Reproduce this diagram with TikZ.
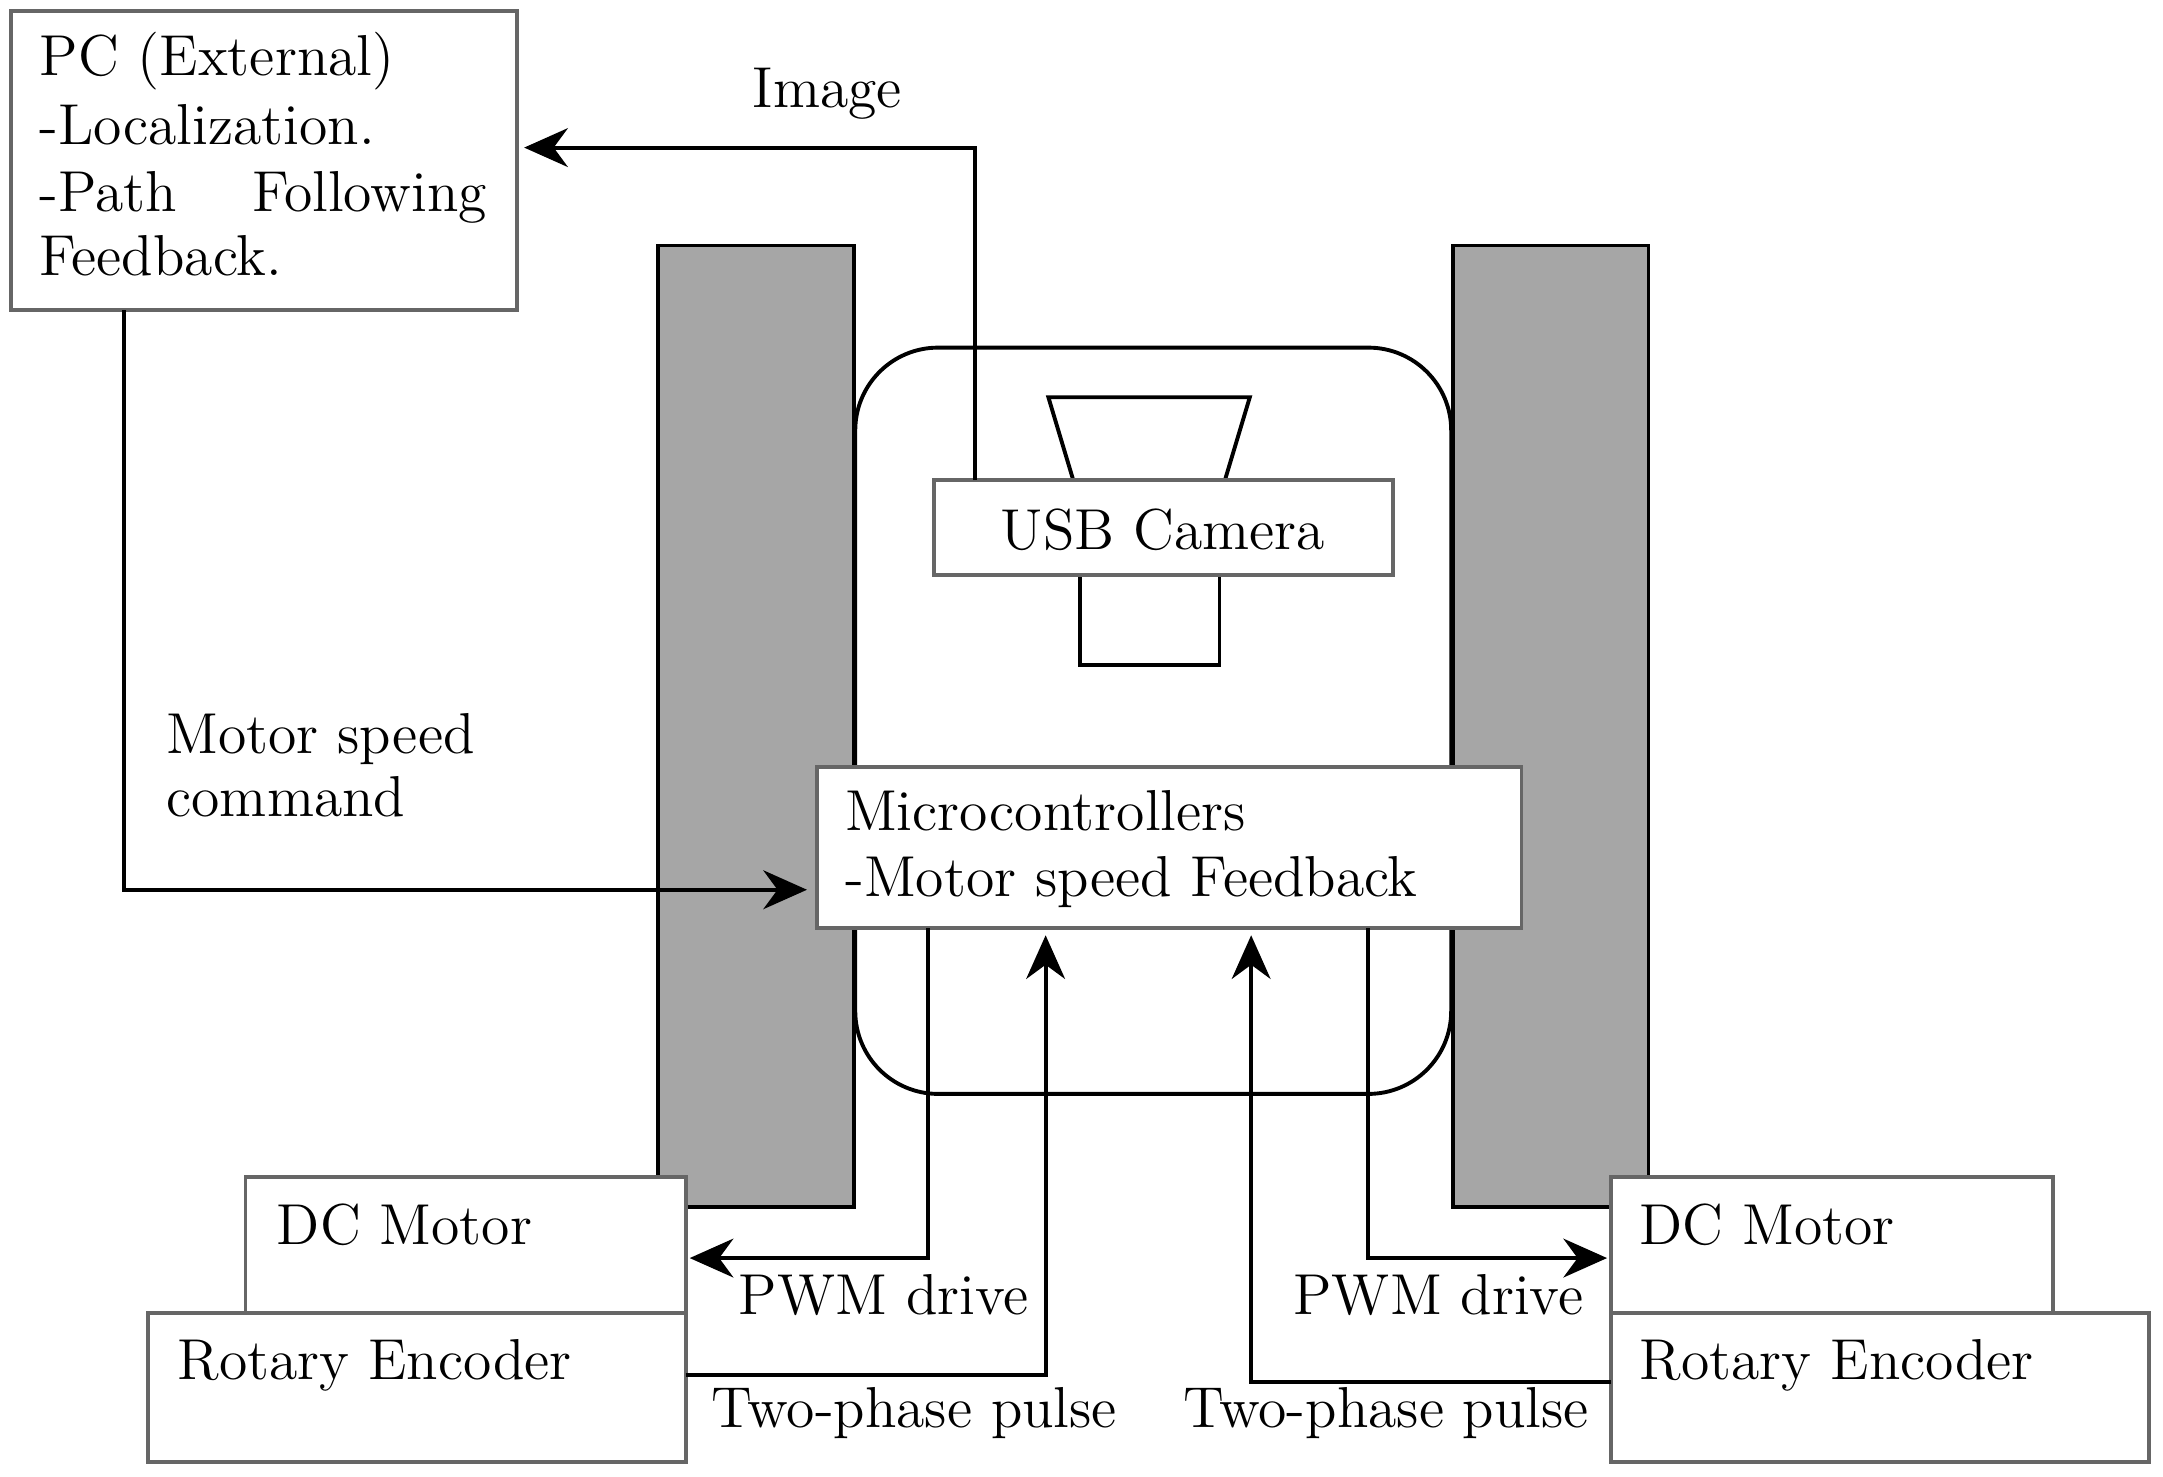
\documentclass[tikz,border=0pt]{standalone}
\usetikzlibrary{arrows.meta}
\begin{document}
\begin{tikzpicture}[x=0.01cm,y=-0.01cm,
 box/.style={draw=gray!80!black,line width=0.8pt,fill=white},
 wheel/.style={draw=black,line width=0.8pt,fill=gray!70},
 lbl/.style={anchor=base west,inner sep=0pt,font=\fontsize{11.9}{14}\selectfont},
 con/.style={line width=0.8pt,-{Stealth[length=9pt,width=8pt]}},
 ln/.style={line width=0.8pt}]
\useasboundingbox (0,0) rectangle (1568,1070);
% wheels
\path[wheel] (477,178) rectangle (619,875);
\path[wheel] (1053,178) rectangle (1195,875);
% body
\draw[ln,rounded corners=0.6cm] (620,252) rectangle (1052,793);
% camera
\draw[ln] (760,288) -- (906,288) -- (888,348) -- (778,348) -- cycle;
\draw[ln] (783,417) rectangle (884,482);
\draw[box] (677,348) rectangle (1010,417);
\node[font=\fontsize{11.9}{14}\selectfont] (cam) at (843,384) {USB Camera};
% PC
\draw[box] (8,8) rectangle (375,225);
\node[lbl] at (28,55) {PC (External)};
\node[lbl] at (28,105) {-Localization.};
\node[lbl] at (28,153) {-Path\hspace{1.3em}Following};
\node[lbl] at (28,200) {Feedback.};
\coordinate (pcin) at (380,107);
\coordinate (pcout) at (90,225);
% micro
\draw[box] (592,556) rectangle (1103,673);
\node[lbl] at (612,602) {Microcontrollers};
\node[lbl] at (612,650) {-Motor speed Feedback};
\coordinate (mcin) at (585,645);
% labels
\node[lbl] at (545,78) {Image};
\node[lbl] at (120,546) {Motor speed};
\node[lbl] at (120,592) {command};
% connectors
\coordinate (camtop) at (707,348);
\draw[con] (camtop) |- (pcin);
\draw[con] (pcout) |- (mcin);
% left motor/encoder
\draw[box] (178,853) rectangle (497,952);
\draw[box] (107,952) rectangle (497,1060);
\node[lbl] at (200,902) {DC Motor};
\node[lbl] at (128,1000) {Rotary Encoder};
% right motor/encoder
\draw[box] (1168,853) rectangle (1488,952);
\draw[box] (1168,952) rectangle (1558,1060);
\node[lbl] at (1188,902) {DC Motor};
\node[lbl] at (1188,1000) {Rotary Encoder};
\coordinate (lm) at (500,912);
\coordinate (rm) at (1165,912);
\coordinate (lp) at (758,678);
\coordinate (rp) at (907,678);
\coordinate (m1) at (673,673);
\coordinate (m2) at (992,673);
\coordinate (e1) at (497,997);
\coordinate (e2) at (1168,1002);
\draw[con] (m1) |- (lm);
\draw[con] (m2) |- (rm);
\draw[con] (e1) -| (lp);
\draw[con] (e2) -| (rp);
\node[lbl] at (535,953) {PWM drive};
\node[lbl] at (937,953) {PWM drive};
\node[lbl] at (515,1035) {Two-phase pulse};
\node[lbl] at (857,1035) {Two-phase pulse};
\end{tikzpicture}
\end{document}
